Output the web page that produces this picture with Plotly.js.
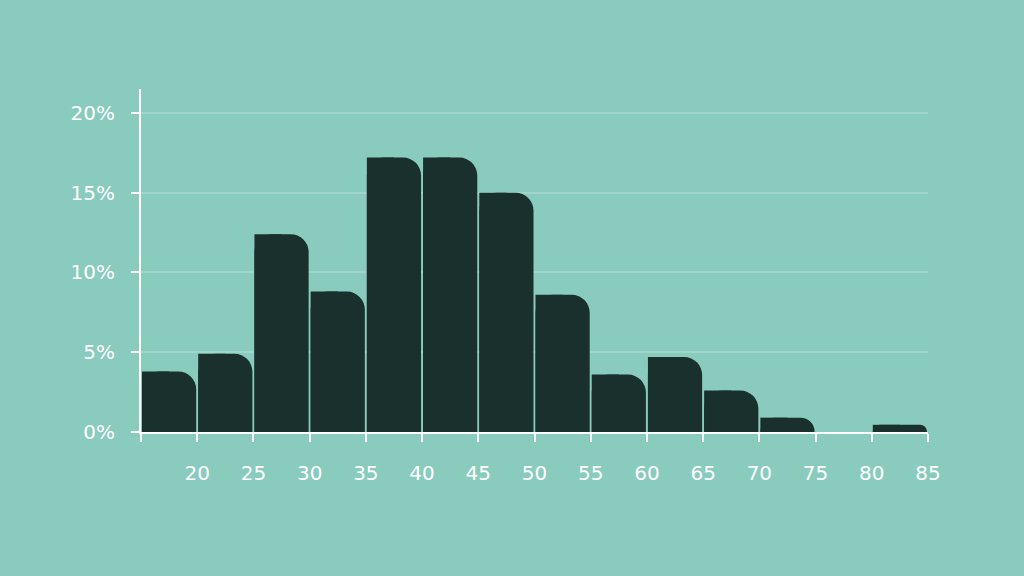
<!DOCTYPE html>
<html>
<head>
<meta charset="utf-8">
<script src="https://cdn.plot.ly/plotly-3.0.1.min.js"></script>
<style>
  html, body { margin: 0; padding: 0; background: #89cbbd; }
  #chart { width: 1024px; height: 576px; }
</style>
</head>
<body>
<div id="chart"></div>
<script>
// bins of 5 years, share of people in each bin (%)
const binStarts = [15, 20, 25, 30, 35, 40, 45, 50, 55, 60, 65, 70, 75, 80];
const shares = [3.8, 4.9, 12.4, 8.8, 17.2, 17.2, 15.0, 8.6, 3.6, 4.7, 2.6, 0.9, 0, 0.45];
const xTicks = [15, 20, 25, 30, 35, 40, 45, 50, 55, 60, 65, 70, 75, 80, 85];
const xTickText = ['', '20', '25', '30', '35', '40', '45', '50', '55', '60', '65', '70', '75', '80', '85'];
const yTicks = [0, 5, 10, 15, 20];
const yTickText = ['0%', '5%', '10%', '15%', '20%'];

const binWidth = 5;
const barWidth = 4.82;
const centers = binStarts.map(b => b + binWidth / 2);

const barColor = '#19302d';

// left half without rounding, drawn first so the rounded bar sits on top
let squareLeft = {
    x: centers,
    y: shares,
    type: 'bar',
    width: barWidth / 2,
    offset: -barWidth / 2,
    marker: {color: barColor, cornerradius: 0.01, line: {width: 0}},
    hoverinfo: 'skip',
};

// full bar with rounded top corners
let rounded = {
    x: centers,
    y: shares,
    type: 'bar',
    width: barWidth,
    offset: -barWidth / 2,
    marker: {color: barColor, cornerradius: '35%', line: {width: 0}},
    hoverinfo: 'skip',
};

const tickFont = {family: 'DejaVu Sans', size: 20, color: '#ffffff'};

let layout = {
    width: 1024,
    height: 576,
    paper_bgcolor: '#89cbbd',
    plot_bgcolor: '#89cbbd',
    margin: {l: 141, r: 96, t: 89, b: 144},
    barmode: 'overlay',
    showlegend: false,
    xaxis: {
        range: [15, 85],
        tickvals: xTicks,
        ticktext: xTickText,
        ticks: 'outside',
        ticklen: 8,
        tickwidth: 2,
        tickcolor: '#ffffff',
        showline: true,
        linecolor: '#ffffff',
        linewidth: 2,
        showgrid: false,
        zeroline: false,
        tickfont: tickFont,
        ticklabelstandoff: 14,
    },
    yaxis: {
        range: [0, 21.5],
        tickvals: yTicks,
        ticktext: yTickText,
        ticks: 'outside',
        ticklen: 8,
        tickwidth: 2,
        tickcolor: '#ffffff',
        showline: true,
        linecolor: '#ffffff',
        linewidth: 2,
        showgrid: true,
        gridcolor: 'rgba(255,255,255,0.2)',
        gridwidth: 2,
        zeroline: false,
        tickfont: tickFont,
        ticklabelstandoff: 12,
    },
};

Plotly.newPlot('chart', [squareLeft, rounded], layout, {staticPlot: true, displayModeBar: false});
</script>
</body>
</html>
